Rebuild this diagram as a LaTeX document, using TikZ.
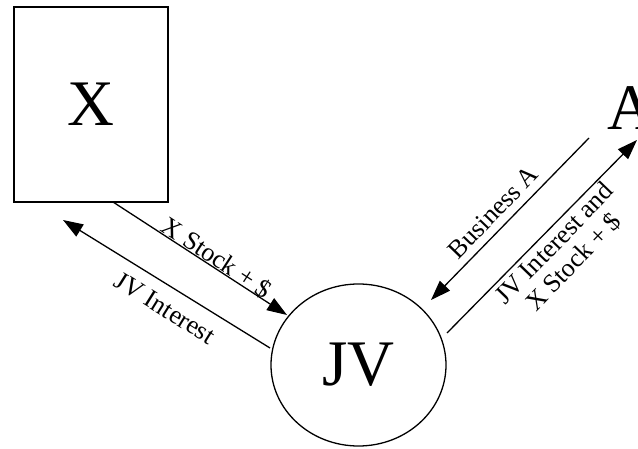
\documentclass[tikz,border=0pt]{standalone}
\usepackage{fontspec}
\setmainfont{Liberation Serif}
\usetikzlibrary{arrows.meta,shapes.geometric}
\begin{document}
\begin{tikzpicture}[x=1pt,y=1pt,
  conn/.style={line width=1.3pt,-{Triangle[length=20pt,width=14pt]}},
  big/.style={font=\fontsize{65}{65}\selectfont},
  lab/.style={font=\fontsize{26}{27}\selectfont,inner sep=0pt,align=center}]
\useasboundingbox (0,0) rectangle (638,448);
\node[draw,line width=1.3pt,minimum width=154pt,minimum height=195pt,big] (X) at (91,343.5) {X};
\node[draw,ellipse,line width=1.3pt,minimum width=175pt,minimum height=162pt,inner sep=0pt,big] (JV) at (358.5,83) {JV};
\node[anchor=base west,inner sep=0pt,big] (A) at (607,318) {A};
\coordinate (a1s) at (113,246);
\coordinate (a1e) at (287,133);
\coordinate (a2s) at (270,100);
\coordinate (a2e) at (63,228);
\coordinate (a3s) at (589,310);
\coordinate (a3e) at (431,148);
\coordinate (a4s) at (447,115);
\coordinate (a4e) at (637,308);
\draw[conn] (a1s) -- (a1e);
\draw[conn] (a2s) -- (a2e);
\draw[conn] (a3s) -- (a3e);
\draw[conn] (a4s) -- (a4e);
\node[lab,rotate=-33] (l1) at (217,190) {X Stock + \$};
\node[lab,rotate=-32] (l2) at (165,140) {JV Interest};
\node[lab,rotate=46] (l3) at (493,236) {Business A};
\node[lab,rotate=46] (l4) at (564,195) {JV Interest and\\X Stock + \$};
\end{tikzpicture}
\end{document}
